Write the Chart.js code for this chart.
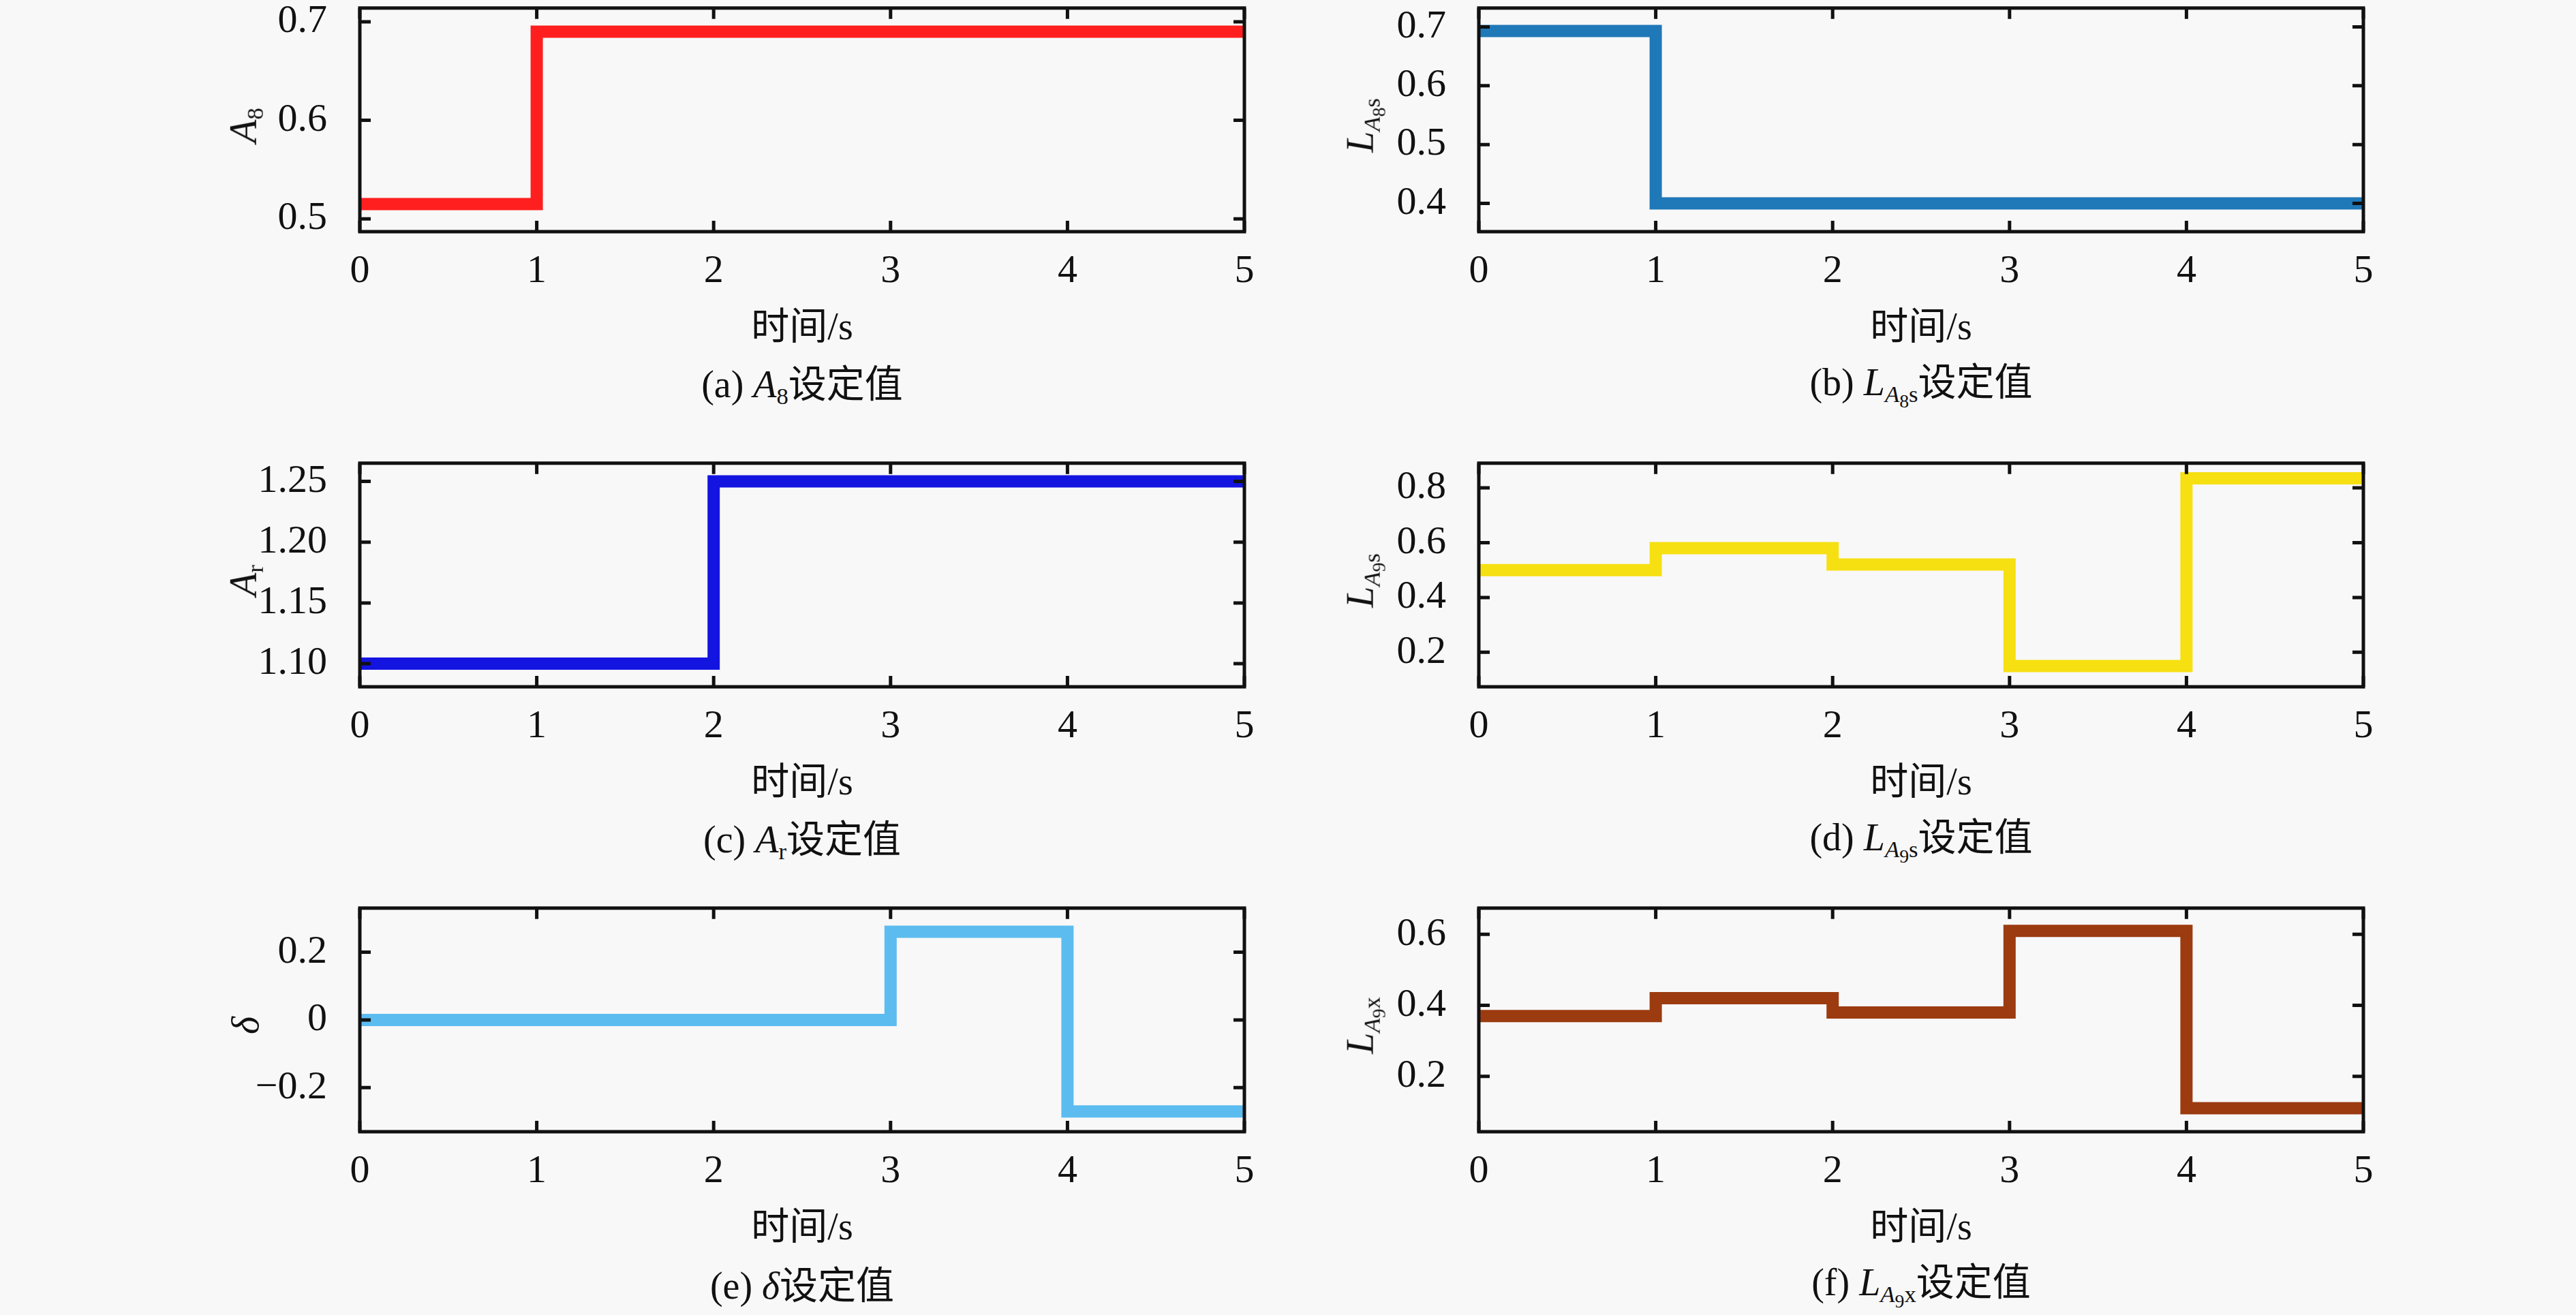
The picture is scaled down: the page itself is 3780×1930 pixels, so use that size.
<!DOCTYPE html>
<html><head><meta charset="utf-8">
<script src="https://cdn.jsdelivr.net/npm/chart.js@4"></script>
<style>
body{margin:0;width:3780px;height:1930px;background:#f8f8f8;position:relative;overflow:hidden;font-family:"Liberation Serif","Noto Sans CJK SC",serif;}
canvas{position:absolute;}
.t{position:absolute;font-size:56px;color:#111;white-space:nowrap;transform:translate(-50%,-50%);}
.yl{position:absolute;font-size:56px;color:#111;white-space:nowrap;transform:translate(-50%,-50%) rotate(-90deg);}
i{font-style:italic}
sub{font-size:0.62em;vertical-align:-0.3em}
sub sub{font-size:0.8em}
</style></head><body>
<script>
// step times and values
const tA8 = [0, 1, 5];           const vA8 = [0.515, 0.69, 0.69];
const tLA8s = [0, 1, 5];         const vLA8s = [0.693, 0.40, 0.40];
const tAr = [0, 2, 5];           const vAr = [1.10, 1.25, 1.25];
const tLA9s = [0, 1, 2, 3, 4, 5];  const vLA9s = [0.50, 0.58, 0.52, 0.15, 0.835, 0.835];
const tDelta = [0, 3, 4, 5];     const vDelta = [0, 0.26, -0.27, -0.27];
const tLA9x = [0, 1, 2, 3, 4, 5];  const vLA9x = [0.37, 0.42, 0.38, 0.61, 0.11, 0.11];
const xTicks = [0, 1, 2, 3, 4, 5];

const Y_W = 200, X_H = 100, PAD_R = 40;
const colX = [528, 2170], plotW = 1298;
const rowY = [12, 680, 1333], plotH = 343;

const panels = [
  {t:tA8, v:vA8, c:'#ff1f1f', col:0, row:0, min:0.487, max:0.714, step:0.1, dec:1,
   yl:'<i>A</i><sub>8</sub>', cap:'(a) <i>A</i><sub>8</sub>设定值'},
  {t:tLA8s, v:vLA8s, c:'#1f78b8', col:1, row:0, min:0.352, max:0.732, step:0.1, dec:1,
   yl:'<i>L</i><sub><i>A</i><sub>8</sub>s</sub>', cap:'(b) <i>L</i><sub><i>A</i><sub>8</sub>s</sub>设定值'},
  {t:tAr, v:vAr, c:'#1414e0', col:0, row:1, min:1.081, max:1.265, step:0.05, dec:2,
   yl:'<i>A</i><sub>r</sub>', cap:'(c) <i>A</i><sub>r</sub>设定值'},
  {t:tLA9s, v:vLA9s, c:'#f6e012', col:1, row:1, min:0.074, max:0.89, step:0.2, dec:1,
   yl:'<i>L</i><sub><i>A</i><sub>9</sub>s</sub>', cap:'(d) <i>L</i><sub><i>A</i><sub>9</sub>s</sub>设定值'},
  {t:tDelta, v:vDelta, c:'#5cbcf0', col:0, row:2, min:-0.33, max:0.33, step:0.2, dec:1,
   yl:'<i>δ</i>', cap:'(e) <i>δ</i>设定值'},
  {t:tLA9x, v:vLA9x, c:'#9c3b10', col:1, row:2, min:0.044, max:0.674, step:0.2, dec:1,
   yl:'<i>L</i><sub><i>A</i><sub>9</sub>x</sub>', cap:'(f) <i>L</i><sub><i>A</i><sub>9</sub>x</sub>设定值'}
];

// box and inward ticks on all four sides
const boxTicks = {
  id: 'boxTicks',
  afterDraw(chart) {
    const {ctx, chartArea: a, scales: {x, y}} = chart;
    ctx.save();
    ctx.strokeStyle = '#111';
    ctx.lineWidth = 5;
    ctx.strokeRect(a.left, a.top, a.right - a.left, a.bottom - a.top);
    const L = 16;
    x.ticks.forEach(tk => {
      const px = x.getPixelForValue(tk.value);
      ctx.beginPath();
      ctx.moveTo(px, a.bottom); ctx.lineTo(px, a.bottom - L);
      ctx.moveTo(px, a.top); ctx.lineTo(px, a.top + L);
      ctx.stroke();
    });
    y.ticks.forEach(tk => {
      const py = y.getPixelForValue(tk.value);
      ctx.beginPath();
      ctx.moveTo(a.left, py); ctx.lineTo(a.left + L, py);
      ctx.moveTo(a.right, py); ctx.lineTo(a.right - L, py);
      ctx.stroke();
    });
    ctx.restore();
  }
};

const font = {family: '"Liberation Serif", serif', size: 58};

panels.forEach(p => {
  const left = colX[p.col], top = rowY[p.row];
  const cv = document.createElement('canvas');
  const W = plotW + Y_W + PAD_R, H0 = plotH + X_H + 60;
  cv.style.left = (left - Y_W) + 'px';
  document.body.appendChild(cv);
  cv.width = W; cv.height = H0;

  const chart = new Chart(cv, {
    type: 'line',
    data: {datasets: [{
      data: p.t.map((t, i) => ({x: t, y: p.v[i]})),
      borderColor: p.c, borderWidth: 18, pointRadius: 0, stepped: true, fill: false
    }]},
    options: {
      responsive: false, animation: false, devicePixelRatio: 1,
      layout: {padding: {right: PAD_R}},
      plugins: {legend: {display: false}, tooltip: {enabled: false}},
      scales: {
        x: {type: 'linear', min: 0, max: 5,
            afterFit(s) { s.height = X_H; },
            afterBuildTicks(s) { s.ticks = xTicks.map(v => ({value: v})); },
            grid: {display: false}, border: {display: false},
            ticks: {font, color: '#111', padding: 16, maxRotation: 0}},
        y: {min: p.min, max: p.max,
            afterFit(s) { s.width = Y_W; },
            grid: {display: false}, border: {display: false},
            ticks: {font, color: '#111', padding: 40, stepSize: p.step, includeBounds: false,
                    callback: v => Math.abs(v) < 1e-9 ? '0' :
                      (v < 0 ? '\u2212' : '') + Math.abs(v).toFixed(p.dec)}}
      }
    },
    plugins: [boxTicks]
  });
  // align the plot area with the reference position
  const offT = chart.chartArea.top;
  chart.resize(W, offT + plotH + X_H);
  cv.style.top = (top - chart.chartArea.top) + 'px';

  const cx = left + plotW / 2, bot = top + plotH;
  const add = (cls, html, x, y) => {
    const d = document.createElement('div');
    d.className = cls; d.innerHTML = html;
    d.style.left = x + 'px'; d.style.top = y + 'px';
    document.body.appendChild(d);
  };
  add('t', '时间/s', cx, bot + 118);
  add('t', p.cap, cx, bot + 205);
  add('yl', p.yl, left - 168, top + plotH / 2);
});
</script>
</body></html>
